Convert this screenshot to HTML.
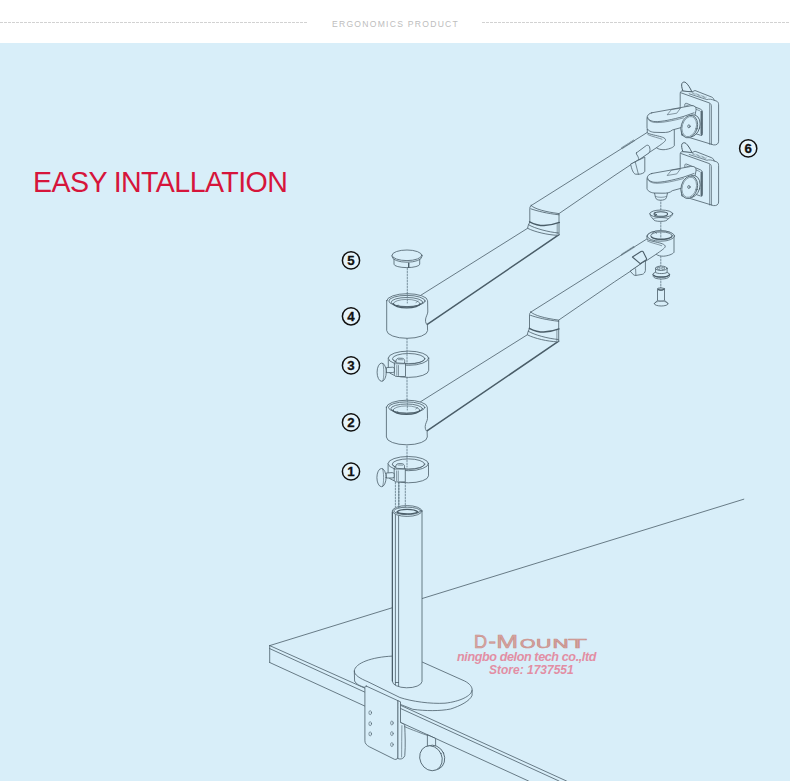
<!DOCTYPE html>
<html><head><meta charset="utf-8">
<style>
html,body{margin:0;padding:0;}
body{width:790px;height:781px;overflow:hidden;position:relative;background:#d8eef9;font-family:"Liberation Sans",sans-serif;}
#hdr{position:absolute;left:0;top:0;width:790px;height:43px;background:#fff;}
#hdr .dl{position:absolute;top:22px;height:1px;background:repeating-linear-gradient(90deg,#d2d2d2 0 3px,transparent 3px 4px);}
#hdr .t{position:absolute;left:332px;top:19px;font-size:8.6px;letter-spacing:1.25px;color:#bdbdbd;white-space:nowrap;line-height:10px;}
#title{position:absolute;left:33px;top:166px;font-size:28.6px;color:#d6153b;white-space:nowrap;line-height:32px;letter-spacing:-0.6px;}
.wm{position:absolute;white-space:nowrap;font-style:italic;font-weight:bold;color:#e28ea4;}
svg{position:absolute;left:0;top:0;}
.f{fill:#d8eef9;}
</style></head>
<body>
<div id="hdr">
  <div class="dl" style="left:0;width:307px"></div>
  <div class="t">ERGONOMICS PRODUCT</div>
  <div class="dl" style="left:482px;width:308px"></div>
</div>
<div id="title">EASY INTALLATION</div>

<svg width="790" height="781" viewBox="0 0 790 781" id="draw">
<g fill="none" stroke="#4a5d68" stroke-width="0.8" stroke-linejoin="round" stroke-linecap="round">
<defs>
<g id="arm">
  <!-- lower segment -->
  <path d="M420.9 295.2 L527.6 228.3"/>
  <path d="M427.3 324.4 L559 234.7" stroke-width="1.5"/>
  <!-- collar -->
  <path class="f" d="M386.7 300.7 L386.7 330.5 A20.45 7.8 0 0 0 427.6 330.5 L427.4 325 C426.3 324,425.4 322.5,425.5 320 C425.6 317,427.6 314.5,427.8 312 L427.6 300.7 A20.45 7 0 0 0 386.7 300.7 Z"/>
  <ellipse cx="407" cy="301" rx="18.2" ry="5.6"/>
  <ellipse cx="407" cy="302.2" rx="15.8" ry="4.7"/>
  <path d="M393.3 303.6 A13.4 4.2 0 0 0 420.1 303.6" stroke-width="1.3"/>
  <path d="M393.3 303.6 A13.4 4.2 0 0 1 420.1 303.6" stroke-width="0.6"/>
  <path d="M416 302.5 l2 -1.5 M398 305 l-0.5 1.2" stroke-width="0.6"/>
  <!-- elbow -->
  <path class="f" d="M531.1 205.6 C530 206.5,529.8 207.5,529.8 208.4 L529.8 221.9 L528.2 225.7 L527.6 228.3 C535 232,548 235,557.7 235.3 L559 234.7 L559 213.6 C545 211.8,535 209,531.1 205.6 Z"/>
  <path d="M530.8 208.8 C537 211,547 213.5,559 214.8"/>
  <path d="M557.2 223.5 L557.2 234.2" stroke-width="0.6"/>
  <path d="M529.6 221.8 C535 224.5,540 225.6,544 225.6 C550 225.4,555 224,559.3 222.4" stroke-width="1.5"/>
  <path d="M528.6 224.8 C535 228.5,548 232,558.5 233"/>
  <!-- upper segment -->
  <path d="M531.1 205.6 L646.7 132.8"/>
  <path d="M559 213.6 L615 175.2 L656.5 147.7"/>
  <!-- grip ridges -->
  <path d="M621.6 148.3 L634.4 140.2" stroke="#5b6f7a" stroke-width="2" stroke-dasharray="0.6 0.6" stroke-linecap="butt"/>
  <!-- end collar -->
  <path class="f" d="M647.3 129.5 L647.3 133 C652 135,659.5 136,662.6 137.3 C664.5 138,665.8 139,665.5 140.3 C665 141.8,661 144.5,656.5 147.7 C658 149.2,661.5 149.8,664 149.7 C668 149.4,673 147.8,674.3 145.8 L674.3 129.5 A13.5 5.2 0 0 0 647.3 129.5 Z"/>
  <path d="M647.8 134.6 C652.5 136.8,658.5 137.8,662 139.2" stroke-width="0.6"/>
</g>

<g id="head">
  <!-- tab -->
  <path class="f" d="M682.8 151.5 C681.8 148.5,681.3 146,681.9 144.2 C682.6 142.6,684.6 142.3,685.9 143.4 C687.8 145,690 148.3,691.8 152.3 Z" stroke-width="1"/>
  <!-- back plate -->
  <path class="f" d="M680.2 167 L680.2 154.5 C680.2 152.6,681 151.5,682.6 151.7 L692 152.6 L695 151.2 L711.8 157.8 C713 158.3,713.8 159.6,714.2 161 L716.3 161.7 C717.9 162.3,718.6 163.5,718.6 165.5 L718.6 202 C718.6 204.5,716.5 206,713.5 205.6 L682 196 Z"/>
  <path d="M680.7 153.4 L709.3 163.6 C710.5 164.1,711.2 165,711.3 166.5 L711.3 205"/>
  <path d="M709.6 164.6 L709.6 205" stroke-width="0.6"/>
  <path d="M689.2 154.5 L706.9 160.3 C709 159.6,711.5 159.8,714.2 161" stroke-width="0.7"/>
  <path d="M692.2 153.5 L706.5 158.5" stroke="#5b6f7a" stroke-width="1.8" stroke-dasharray="0.5 0.8" stroke-linecap="butt"/>
  <!-- square bracket -->
  <path class="f" d="M684.8 165.2 C684.8 164.2,685.6 163.8,686.6 164.1 L700.2 169.7 C701.6 170.3,702.4 171.2,702.4 172.5 L702.4 194.5 C702.4 195.8,701.6 196.3,700.3 195.9 L687 191.5 Z"/>
  <path d="M686.5 166 L699.8 171.5 C700.6 172,700.8 172.5,700.8 173.5 L700.8 194.6" stroke-width="0.6"/>
  <path d="M701.7 172 L701.7 195.8" stroke-width="1.2" stroke-dasharray="0.8 0.5"/>
  <!-- head arm -->
  <path class="f" d="M651.8 173.5 L690.6 166.5 C694.5 165.8,696.5 168,696 171 L693 185 L672.3 190.7 C670 192.8,667 193.3,662 193.2 L654 193 C650 192.6,647.3 190.5,647 188.6 L647 178.9 C647 176,649 174,651.8 173.5 Z"/>
  <path d="M647.6 178 C648 180.5,651 182,655 182.3 C662 182.6,673 180,683 177.3 L694 173.5"/>
  <path d="M647.6 179.3 C649.5 182.5,653 183.2,657 183.3 C664 183.3,674 181.2,683.5 178.6" stroke-width="0.6"/>
  <path d="M667.4 175.2 L671.5 170.2 L680.5 168.8 L677 173.6 Z" stroke-width="0.6"/>
  <!-- knob disc -->
  <ellipse class="f" cx="691.9" cy="186.6" rx="8" ry="11.3" transform="rotate(16 691.9 186.6)"/>
  <ellipse class="f" cx="689.3" cy="187.3" rx="8.1" ry="11.5" transform="rotate(16 689.3 187.3)"/>
  <ellipse cx="689.3" cy="187.3" rx="7" ry="10.3" transform="rotate(16 689.3 187.3)" stroke-width="0.5"/>
  <ellipse cx="688.9" cy="187" rx="1.2" ry="1.5"/>
</g>
</defs>

<!-- DESK -->
<path d="M269.7 645.6 L743.8 499.2"/>
<path d="M269.7 645.6 L269.7 662.5"/>
<path d="M269.7 645.6 L365 688.2 M400.5 705.3 L566.5 781"/>
<path d="M269.7 648.6 L559 781"/>
<path d="M269.7 662.5 L528.5 781"/>

<!-- BASE -->
<path class="f" d="M423 662.4 L464.8 681.1 C469.5 683.5,472.5 687,472.1 690.3 L472.1 695.3 C470 701,460 706,450.6 709 C440 711.2,425 711,412.8 709.3 L400.3 704.4 L365 687.5 C360 686,356 684,354.6 681 L354.3 671 C355 663,372 657,392.2 656.1 Z"/>
<path d="M472.1 690.3 C471.5 696,460 701.5,445 703.2 C430 704,412 701.5,399.9 697.5 L368 681.8 C360 678.5,354 675,354.3 671"/>

<!-- POLE -->
<path class="f" d="M392.4 511 L392.4 681 A14.8 6.5 0 0 0 422 681.6 L422 511 Z"/>
<path d="M392.4 512 L392.4 681" stroke-width="1.2"/>
<path d="M395.4 514.5 L395.4 685 M398.6 515.8 L398.6 686 M395.4 682.5 L398.6 682.5"/>
<ellipse class="f" cx="407.2" cy="511" rx="14.8" ry="5.4"/>
<ellipse cx="407.2" cy="510.9" rx="13.4" ry="3.7"/>
<path d="M397 512 C400 508.5,414 508.5,418 512 C414 514.5,400 514.5,397 512 Z" stroke-width="1.4"/>

<!-- CLAMP -->
<path class="f" d="M366.3 686.1 L398.2 700.8 L398.2 756 C398.2 758.5,396.5 760,394.5 759.3 L369.4 746.8 C366.5 745.2,364.9 743.5,364.9 740.8 L364.9 687.5 C364.9 686.5,365.5 686,366.3 686.1 Z"/>
<path class="f" d="M398.2 700.8 L400.5 701.8 L400.5 722.5 L404.7 724.6 C405.1 735,405.6 745,404.8 755.5 C404.2 758,401.8 759.2,399.8 759 L398.2 758.6 Z"/>
<path d="M404.7 726.7 C409 728.5,413 730.2,416.5 731.4 C420 732.8,424 734.3,427.5 735.4" stroke-width="0.7"/>
<path d="M401.9 725.6 C401.7 735,401.7 748,401.6 757" stroke-width="0.6"/>
<g stroke-width="0.6">
<ellipse cx="370.2" cy="712.7" rx="1.3" ry="2"/>
<ellipse cx="370.2" cy="723.7" rx="1.3" ry="2"/>
<ellipse cx="370.2" cy="733.9" rx="1.3" ry="2"/>
<ellipse cx="391.9" cy="723" rx="1.3" ry="2"/>
<ellipse cx="391.9" cy="733.6" rx="1.3" ry="2"/>
<ellipse cx="391.9" cy="744.6" rx="1.3" ry="2"/>
</g>
<!-- knob under desk -->
<path class="f" d="M427.4 735.2 L427.4 749.7 L435.6 749.7 L435.6 738.8 Z"/>
<ellipse class="f" cx="433.5" cy="757.5" rx="11" ry="12.6" transform="rotate(-25 433.5 757.5)"/>
<ellipse class="f" cx="431" cy="758.2" rx="11" ry="12.8" transform="rotate(-25 431 758.2)"/>

<!-- DASHED AXIS LINES -->
<g stroke="#6d8592" stroke-width="0.9" stroke-dasharray="1.6 1.4">
<path d="M407.3 268 L407.3 296"/>
<path d="M407 338 L407 352"/>
<path d="M407 377 L407 402"/>
<path d="M407 446 L407 458"/>
<path d="M395.4 482 L395.4 507 M405.3 482 L405.3 507"/>
<path d="M398.8 482 L398.8 508" stroke-width="1.5"/>
<path d="M660.8 199 L660.8 212 M660.8 219.5 L660.8 231 M660.8 256 L660.8 268 M660.8 278 L660.8 290"/>
</g>

<!-- CAP 5 -->
<g id="cap">
<path class="f" d="M394 258.5 L394 264.2 A12.85 3.4 0 0 0 419.7 264.2 L419.7 258.5 Z"/>
<path class="f" d="M392.1 255.3 L392.1 256.6 A14.9 5.6 0 0 0 421.9 256.6 L421.9 255.3 Z"/>
<ellipse class="f" cx="407" cy="255.3" rx="14.9" ry="5.3"/>
<path d="M408.7 263.3 L408.7 267.4" stroke-width="1.4"/>
</g>

<!-- COLLAR 3 (clamp ring) -->
<g id="ring">
<path class="f" d="M388.3 358.2 L388.3 370.4 A20.2 7 0 0 0 428.7 370.4 L428.7 358.2 Z"/>
<ellipse class="f" cx="408.5" cy="358.2" rx="20.2" ry="7.1"/>
<ellipse cx="408.7" cy="358.7" rx="16.2" ry="5.2"/>
<path d="M392.6 359.5 A16.2 4.6 0 0 0 424.8 359.5" stroke-width="0.6"/>
<!-- block -->
<path class="f" d="M394.4 363.8 L394.4 374.5 C394.4 375.8,395.4 376.5,396.5 376.5 L405.5 376.5 L405.5 363.8 L403.5 361.3 L396.5 360.8 Z"/>
<path class="f" d="M396 362.5 C395.6 360,396.6 358.4,398.6 358.2 L402.4 358.3 C404 358.6,404.9 359.8,404.7 361.5 L404.6 363 Z"/>
<path d="M398.2 359.6 L402.8 359.8" stroke-width="0.6"/>
<path d="M394.4 363.8 L405.5 363.8 M396.8 365.5 L396.8 375.5 M398.5 365.5 L398.5 375.5" stroke-width="0.6"/>
<!-- knob -->
<path class="f" d="M386.8 367.6 L392.4 367.2 L394.4 368 L394.4 372 L392.3 372.6 L386.8 372.6 Z"/>
<ellipse class="f" cx="381.7" cy="372.2" rx="4.6" ry="9.1"/>
<path d="M382.8 363.4 C384 366,384.3 378,382.8 381" stroke-width="0.6"/>
</g>
<use href="#ring" transform="translate(-0.2 105.4)"/>

<!-- ARMS -->
<use href="#arm" transform="translate(-0.3 106.5)"/>
<use href="#arm"/>

<!-- lower arm end collar top (exposed) -->
<ellipse class="f" cx="660.9" cy="236" rx="13.6" ry="5.2"/>
<ellipse cx="661.5" cy="235.8" rx="10.8" ry="3.9"/>
<path d="M651.5 237 C655 240,667 240,671.5 237" stroke-width="1.3"/>
<path d="M652 233.5 L654.5 231.5 L656.5 233.5" stroke-width="0.6"/>

<!-- washer above lower arm end -->
<path class="f" d="M649.9 213.7 C649.9 216,652 217.6,653.2 219.2 A7.4 2.6 0 0 0 667.8 219.2 C669.5 217.6,672.7 216,672.7 213.7 Z"/>
<ellipse class="f" cx="661.3" cy="213.7" rx="11.4" ry="3.7"/>
<ellipse cx="660.8" cy="214" rx="6.8" ry="2.3" stroke-width="1.1"/>
<path d="M653.6 218.6 C656 217.2,665.5 217.2,667.6 218.6" stroke-width="0.6"/>
<path d="M655 212.6 C654.4 214,655.3 215.2,656.6 214.6" stroke-width="1"/>

<!-- nut below -->
<path class="f" d="M653 274.4 L653.3 276.5 C654 278.3,657.5 279,661.3 279 C665 279,668.6 278.3,669.3 276.5 L669.6 274.4 Z"/>
<ellipse class="f" cx="661.3" cy="274.4" rx="8.3" ry="3"/>
<path d="M653.6 275.2 C656 277.5,666.5 277.5,669 275.2" stroke-width="1.2"/>
<path class="f" d="M655.6 268.3 L655.6 272.3 C657 274,665.5 274,667.1 272.3 L667.1 268.3 Z"/>
<ellipse class="f" cx="661.3" cy="268.3" rx="5.75" ry="2.2"/>
<path d="M658 267.3 L660 267.3 L660 269.3 L658 269.3 Z M662.2 267.3 L664.4 267.3 L664.4 269.3 L662.2 269.3 Z" stroke-width="0.6"/>

<!-- bolt (countersunk) -->
<path class="f" d="M657.5 289 L657.5 300.3 L654.3 303.6 A6.9 2.4 0 0 0 668.1 303.6 L664.5 300.3 L664.5 289 Z"/>
<ellipse class="f" cx="661" cy="289" rx="3.5" ry="1.1"/>
<path d="M658.5 289.3 C659.5 290.5,662.5 290.5,663.5 289.3" stroke-width="1.2"/>
<path d="M654.3 303.6 A6.9 2.4 0 0 1 668.1 303.6" stroke-width="0.6"/>
<path d="M657.5 300.3 C659 301.3,663 301.3,664.5 300.3" stroke-width="0.6"/>

<!-- lower head bottom screw -->
<path class="f" d="M654.5 193 L655.5 197.5 C656 199.5,658 200.2,660.5 200.2 C663.5 200.2,666 199.5,666.5 197.5 L667.5 193 Z"/>
<path d="M655.8 196.6 C658 197.6,664 197.6,666.2 196.6" stroke-width="0.6"/>

<!-- CLIPS -->
<path class="f" d="M645.4 261 L645.4 270.5 C645 272.5,644 273.8,642.5 274.3 L636.1 275.4 C634.8 275.5,633.8 275.2,633.3 274.6 L630.4 271.4 Z"/>
<path d="M635.6 268.8 L635.9 275.2" stroke-width="0.7"/>
<path class="f" d="M632.4 257 L641 251.5 C641.8 251,642.8 251.2,643.3 252 L646.5 258.6 C646.7 259.3,646.3 259.9,645.6 260.3 L640.2 263.6 Z" stroke-width="1.1"/>
<path class="f" d="M644.8 157.5 L644.8 171.3 C644.5 173,641 174.2,639 174.2 L635.6 174.2 C633.5 174,631.5 169,630.7 164.4 Z"/>
<path d="M635.3 162.1 L638.4 174.2" stroke-width="0.7"/>
<path class="f" d="M636.4 152.9 L646.5 145.4 C647.5 144.9,648.7 145.3,649.4 146.5 L650 149.2 C650 150.5,649.7 152.2,649 152.9 L639 159.8 C638.5 158,638.2 156.5,637 155 C636.4 154.4,636.2 153.6,636.4 152.9 Z"/>

<!-- axis visible through openings -->
<g stroke="#6d8592" stroke-width="0.9" stroke-dasharray="1.6 1.4">
<path d="M407.3 293 L407.3 303"/>
<path d="M407.3 400 L407.3 410"/>
<path d="M407 351.5 L407 362"/>
<path d="M407 457 L407 467"/>
<path d="M660.8 229.5 L660.8 238"/>
</g>

<!-- HEADS -->
<use href="#head"/>
<use href="#head" transform="translate(0 -60.7)"/>

</g>
<!-- numbered circles -->
<g fill="#e6f4fb" stroke="#111" stroke-width="1.5">
  <circle cx="351" cy="260.4" r="8.6"/>
  <circle cx="351" cy="316.3" r="8.6"/>
  <circle cx="351" cy="365.4" r="8.6"/>
  <circle cx="351" cy="422.4" r="8.6"/>
  <circle cx="351" cy="471.5" r="8.6"/>
  <circle cx="748.2" cy="148.4" r="8.6"/>
</g>
<g font-family="Liberation Sans" font-weight="bold" font-size="13.3" fill="#111" stroke="#111" stroke-width="0.3" text-anchor="middle">
  <text x="351" y="264.8">5</text>
  <text x="351" y="320.7">4</text>
  <text x="351" y="369.8">3</text>
  <text x="351" y="426.8">2</text>
  <text x="351" y="475.9">1</text>
  <text x="748.2" y="152.8">6</text>
</g>
<g font-family="Liberation Sans" fill="#d9a6a2" stroke="#c8928d" stroke-width="0.6"><text x="474.1" y="648.1" font-size="17.6" textLength="13.1" lengthAdjust="spacingAndGlyphs">D</text><text x="488.4" y="648.1" font-size="17.6" textLength="7.5" lengthAdjust="spacingAndGlyphs">-</text><text x="496.3" y="648.1" font-size="17.6" textLength="21.8" lengthAdjust="spacingAndGlyphs">M</text><text x="520.0" y="648.1" font-size="12.4" textLength="15.5" lengthAdjust="spacingAndGlyphs">O</text><text x="535.9" y="648.1" font-size="12.4" textLength="15.4" lengthAdjust="spacingAndGlyphs">U</text><text x="552.4" y="648.1" font-size="12.4" textLength="16.2" lengthAdjust="spacingAndGlyphs">N</text><text x="568.3" y="648.1" font-size="12.4" textLength="18.6" lengthAdjust="spacingAndGlyphs">T</text></g>
</svg>


<div class="wm" style="left:457px;top:649.7px;font-size:12.6px;letter-spacing:-0.4px;">ningbo delon tech co.,ltd</div>
<div class="wm" style="left:489px;top:662.7px;font-size:12px;">Store: 1737551</div>
</body></html>
